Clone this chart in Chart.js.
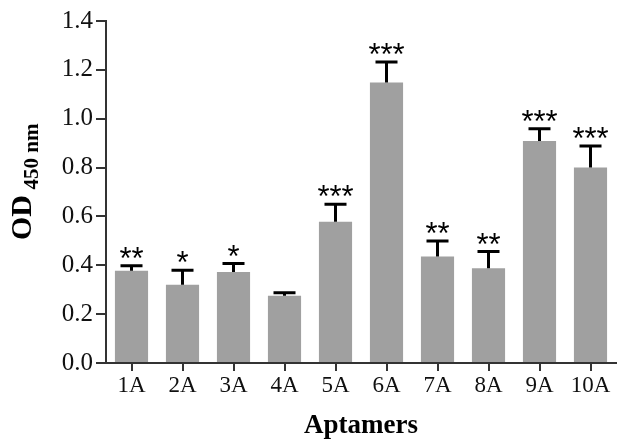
<!DOCTYPE html>
<html>
<head>
<meta charset="utf-8">
<script src="https://cdn.jsdelivr.net/npm/chart.js@4.4.0/dist/chart.umd.min.js"></script>
<style>
  html, body { margin: 0; padding: 0; background: #fff; }
  #wrap { width: 626px; height: 442px; }
</style>
</head>
<body>
<div id="wrap"><canvas id="od-chart"></canvas></div>
<script>
const aptamers = ["1A", "2A", "3A", "4A", "5A", "6A", "7A", "8A", "9A", "10A"];
const od_mean = [0.378, 0.320, 0.373, 0.275, 0.578, 1.148, 0.436, 0.388, 0.909, 0.800];
const od_sem = [0.020, 0.060, 0.034, 0.013, 0.072, 0.084, 0.063, 0.068, 0.050, 0.088];
const stars = ["**", "*", "*", "", "***", "***", "**", "**", "***", "***"];
const y_ticks = [0, 0.2, 0.4, 0.6, 0.8, 1.0, 1.2, 1.4];

const axis_color = "#333333";
const serif = "'Liberation Serif', 'Times New Roman', serif";

// error bars + significance stars
const errorBars = {
  id: "errorBars",
  afterDatasetsDraw(chart) {
    const ctx = chart.ctx;
    const y = chart.scales.y;
    const meta = chart.getDatasetMeta(0);
    ctx.save();
    meta.data.forEach((bar, i) => {
      const x = bar.x;
      const top = y.getPixelForValue(od_mean[i]);
      const tip = y.getPixelForValue(od_mean[i] + od_sem[i]);
      ctx.strokeStyle = "#000";
      ctx.lineWidth = 3;
      ctx.beginPath();
      ctx.moveTo(x, top);
      ctx.lineTo(x, tip);
      ctx.moveTo(x - 11, tip);
      ctx.lineTo(x + 11, tip);
      ctx.stroke();
      if (stars[i]) {
        ctx.fillStyle = "#000";
        ctx.font = "31px 'Liberation Sans', Arial, sans-serif";
        ctx.textAlign = "center";
        ctx.textBaseline = "alphabetic";
        ctx.fillText(stars[i], x, tip + 3);
      }
    });
    ctx.restore();
  },
  afterDraw(chart) {
    const ctx = chart.ctx;
    const area = chart.chartArea;
    ctx.save();
    ctx.fillStyle = "#000";
    // x title
    ctx.font = "bold 27px " + serif;
    ctx.textAlign = "center";
    ctx.textBaseline = "alphabetic";
    ctx.fillText("Aptamers", (area.left + area.right) / 2, 433);
    // y title with subscript
    ctx.translate(31, 240);
    ctx.rotate(-Math.PI / 2);
    ctx.textAlign = "left";
    ctx.font = "bold 30px " + serif;
    ctx.fillText("OD", 0, 0);
    const w = ctx.measureText("OD ").width;
    ctx.font = "bold 21px " + serif;
    ctx.fillText("450 nm", w - 2, 7);
    ctx.restore();
  }
};

new Chart(document.getElementById("od-chart"), {
  type: "bar",
  data: {
    labels: aptamers,
    datasets: [
      {
        label: "OD 450 nm",
        data: od_mean,
        backgroundColor: "#a0a0a0",
        borderWidth: 0,
        barPercentage: 0.65,
        categoryPercentage: 1.0,
      },
    ],
  },
  options: {
    responsive: true,
    maintainAspectRatio: false,
    animation: false,
    layout: {
      padding: { top: 21, right: 10, left: 0, bottom: 0 },
    },
    plugins: {
      legend: { display: false },
      tooltip: { enabled: false },
    },
    scales: {
      x: {
        grid: {
          offset: false,
          drawOnChartArea: false,
          drawTicks: true,
          tickLength: 8,
          lineWidth: 2,
          color: axis_color,
        },
        border: { color: axis_color, width: 2 },
        ticks: {
          color: "#111",
          padding: 1,
          font: { family: serif, size: 23 },
        },
        afterFit: function (scale) {
          scale.height = 79;
        },
      },
      y: {
        min: 0,
        max: 1.4,
        afterBuildTicks: function (scale) {
          scale.ticks = y_ticks.map((v) => ({ value: v }));
        },
        grid: {
          drawOnChartArea: false,
          drawTicks: true,
          tickLength: 10,
          lineWidth: 2,
          color: axis_color,
        },
        border: { color: axis_color, width: 2 },
        ticks: {
          color: "#111",
          padding: 3,
          font: { family: serif, size: 25 },
          callback: function (val) {
            return Number(val).toFixed(1);
          },
        },
        afterFit: function (scale) {
          scale.width = 106;
        },
      },
    },
  },
  plugins: [errorBars],
});
</script>
</body>
</html>
